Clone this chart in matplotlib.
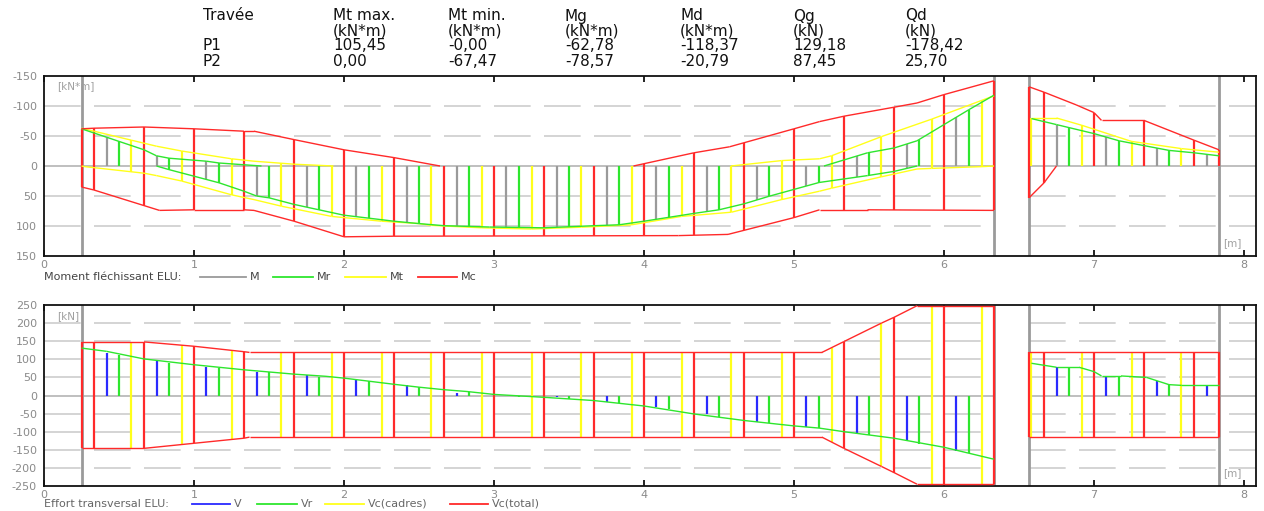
import numpy as np
import matplotlib
matplotlib.use("Agg")
import matplotlib.pyplot as plt
from matplotlib.lines import Line2D

plt.rcParams['font.family'] = ['DejaVu Sans']

# ---------------- table values ----------------
table_headers = ["Travée", "Mt max.", "Mt min.", "Mg", "Md", "Qg", "Qd"]
table_units = ["", "(kN*m)", "(kN*m)", "(kN*m)", "(kN*m)", "(kN)", "(kN)"]
row_P1 = ["P1", "105,45", "-0,00", "-62,78", "-118,37", "129,18", "-178,42"]
row_P2 = ["P2", "0,00", "-67,47", "-78,57", "-20,79", "87,45", "25,70"]

# ---------------- geometry (m) ----------------
support_x = [0.25, 6.333, 6.567, 7.833]
x_ticks = [0, 1, 2, 3, 4, 5, 6, 7, 8]
m_ticks = [-150, -100, -50, 0, 50, 100, 150]
v_ticks = [250, 200, 150, 100, 50, 0, -50, -100, -150, -200, -250]

red_x_P1 = [0.25, 0.333, 0.667, 1.0, 1.333, 1.667, 2.0, 2.333, 2.667, 3.0, 3.333,
            3.667, 4.0, 4.333, 4.667, 5.0, 5.333, 5.667, 6.0, 6.333]
gray_x_P1 = [0.417, 0.75, 1.083, 1.417, 1.75, 2.083, 2.417, 2.75, 3.083, 3.417,
             3.75, 4.083, 4.417, 4.75, 5.083, 5.417, 5.75, 6.083]
green_x_P1 = [0.5, 0.833, 1.167, 1.5, 1.833, 2.167, 2.5, 2.833, 3.167, 3.5,
              3.833, 4.167, 4.5, 4.833, 5.167, 5.5, 5.833, 6.167]
yellow_x_P1 = [0.583, 0.917, 1.25, 1.583, 1.917, 2.25, 2.583, 2.917, 3.25, 3.583,
               3.917, 4.25, 4.583, 4.917, 5.25, 5.583, 5.917, 6.25]
red_x_P2 = [6.567, 6.667, 7.0, 7.333, 7.667, 7.833]
gray_x_P2 = [6.75, 7.083, 7.417, 7.75]
green_x_P2 = [6.833, 7.167, 7.5]
yellow_x_P2 = [6.583, 6.917, 7.25, 7.583]

# ---------------- moment envelopes (kN*m) ----------------
Mc_up_x_P1 = [0.25, 0.333, 0.667, 1.0, 1.333, 1.4, 1.667, 2.0, 2.333, 2.64, 3.93, 4.333,
              4.57, 5.0, 5.17, 5.333, 5.667, 5.82, 6.0, 6.333]
Mc_up_P1 = [-62, -63, -65, -62, -58, -58, -44, -27, -14, 0, 0, -22,
            -32, -62, -74, -83, -98, -105, -119, -142]
Mc_lo_x_P1 = [0.25, 0.333, 0.667, 0.77, 1.0, 1.333, 1.4, 1.667, 2.0, 2.333, 4.23, 4.56,
              5.0, 5.17, 5.49, 6.333]
Mc_lo_P1 = [35, 40, 66, 74, 73, 73, 74, 92, 118, 117, 116, 114, 86, 73, 73, 74]

Mr_up_x_P1 = [0.25, 0.417, 0.5, 0.667, 0.75, 0.833, 1.083, 1.167, 1.45, 5.2, 5.49,
              5.667, 5.82, 6.0, 6.167, 6.333]
Mr_up_P1 = [-62, -48, -41, -27, -17, -13, -8, -5, 0, 0, -22, -30, -42, -69, -94, -118]
Mr_lo_x_P1 = [0.25, 0.75, 0.833, 1.0, 1.167, 1.333, 1.417, 1.5, 1.667, 1.833, 2.0, 2.167,
              2.333, 2.5, 2.667, 2.97, 3.333, 3.667, 3.833, 4.0, 4.333, 4.5, 4.667,
              4.833, 5.0, 5.167, 5.49, 5.667, 5.82, 6.333]
Mr_lo_P1 = [0, 0, 6, 17, 28, 42, 50, 53, 64, 73, 82, 87, 92, 96, 99.5, 101.7, 103, 99.5,
            98, 92, 79, 73, 63, 50.5, 39, 27.5, 16, 9, 0, 0]

Mt_up_x_P1 = [0.25, 0.583, 0.75, 0.917, 1.25, 1.4, 1.667, 1.93, 4.58, 4.917, 5.0, 5.17,
              5.25, 5.583, 5.917, 6.333]
Mt_up_P1 = [-63, -43, -33, -25, -12, -8, -3, 0, 0, -9, -10, -12, -17, -49, -78, -117]
Mt_lo_x_P1 = [0.25, 0.27, 0.667, 0.75, 0.917, 1.25, 1.4, 1.583, 1.917, 2.25, 2.5, 2.583,
              2.917, 3.25, 3.583, 3.917, 4.25, 4.583, 4.917, 5.17, 5.25, 5.583, 5.82,
              5.917, 6.26, 6.333]
Mt_lo_P1 = [0, 1, 12, 16, 25, 48, 56, 67, 84, 92, 96, 99, 103, 105, 102, 98, 84, 77, 56,
            42, 37, 18, 5, 4, 1, 0]

Mc_up_x_P2 = [6.567, 6.667, 6.88, 7.0, 7.05, 7.333, 7.667, 7.833]
Mc_up_P2 = [-132, -123, -102, -89, -76, -76, -43, -27]
Mc_lo_x_P2 = [6.567, 6.667, 6.75, 7.833]
Mc_lo_P2 = [53, 28, 0, 0]
Mr_up_x_P2 = [6.583, 6.75, 7.0, 7.167, 7.333, 7.5, 7.667, 7.833]
Mr_up_P2 = [-79, -69, -54, -42, -34, -26, -22, -17]
Mt_up_x_P2 = [6.583, 6.75, 6.917, 7.25, 7.583, 7.833]
Mt_up_P2 = [-80, -80, -68, -41, -29, -23]

# ---------------- shear (kN) ----------------
Vc_x_P1 = [0.25, 0.667, 1.0, 1.333, 1.37, 5.186, 5.333, 5.583, 5.667, 5.82, 6.333]
Vc_up_P1 = [148, 148, 136, 121, 119, 119, 149, 200, 216, 248, 248]
Vc_lo_P1 = [-146, -146, -132, -118, -115, -115, -146, -196, -213, -245, -245]
Vc_x_P2 = [6.567, 7.833]
Vc_up_P2 = [119, 119]
Vc_lo_P2 = [-115, -115]

Vr_x_P1 = [0.25, 0.417, 0.667, 1.0, 1.333, 1.667, 1.88, 2.0, 2.333, 2.5, 2.667, 2.82,
           3.0, 3.333, 3.667, 4.0, 4.333, 4.667, 5.0, 5.167, 5.333, 5.667, 6.0, 6.333]
Vr_P1 = [131, 122, 101, 85, 71, 59, 53, 48, 31, 23, 16, 11, 3, -5, -14, -29, -51, -69,
         -84, -90, -100, -118, -143, -176]
Vr_x_P2 = [6.583, 6.75, 6.9, 7.0, 7.05, 7.18, 7.35, 7.5, 7.583, 7.833]
Vr_P2 = [89, 78, 78, 66, 54, 54, 50, 30, 28, 28]

V_bars_P1 = [117, 94, 80, 66, 57, 45, 28, 8, 0, -5, -17, -32, -52, -72, -86, -104, -123, -152]
Vr_bars_P1 = [112, 91, 77, 65, 51, 41, 23, 10, -3, -10, -21, -38, -60, -77, -90, -109, -134, -160]
V_bars_P2 = [78, 51, 39, 27]
Vr_bars_P2 = [78, 50, 30]

# ---------------- styles ----------------
C_RED = '#ff2a2a'
C_GREEN = '#2ee62e'
C_YEL = '#ffff1a'
C_GRAY = '#9a9a9a'
C_BLUE = '#2a2aff'
C_GRID = '#cdcdcd'
C_TXT = '#8a8a8a'
W, H = 1264, 511
XMAX = 8.08

fig = plt.figure(figsize=(W / 100, H / 100), dpi=100)


def fx(px):
    return px / W


def fy(py):
    return 1 - py / H


def env(ax, xs, ys, color, lw=1.0, z=4):
    xs = np.asarray(xs, float)
    ys = np.asarray(ys, float)
    for i in range(len(xs) - 1):
        if ys[i] == 0 and ys[i + 1] == 0:
            continue
        ax.plot(xs[i:i + 2], ys[i:i + 2], color=color, lw=lw, zorder=z,
                solid_capstyle='butt')


def base_axes(rect, ylim, yticks, gridvals, unit, unit_y, m_y):
    ax = fig.add_axes(rect)
    ax.set_xlim(0, XMAX)
    ax.set_ylim(*ylim)
    for s in ax.spines.values():
        s.set_color('#111111')
        s.set_linewidth(1.3)
    ax.set_xticks(x_ticks)
    ax.set_xticklabels([str(t) for t in x_ticks])
    ax.set_yticks(yticks)
    ax.set_yticklabels([str(t) for t in yticks])
    ax.tick_params(axis='x', direction='in', top=True, length=4, width=1.3,
                   color='#111111', labelsize=8, labelcolor=C_TXT, pad=3)
    ax.tick_params(axis='y', length=0, labelsize=8, labelcolor=C_TXT, pad=5)
    segs = [(0, 6.333), (6.567, XMAX)]
    for g in gridvals:
        for a, b in segs:
            ax.plot([a, b], [g, g], color=C_GRID, lw=1.2, dashes=(22, 8), zorder=0.5)
    for a, b in segs:
        ax.plot([a, b], [0, 0], color='#b4b4b4', lw=1.2, zorder=0.6)
    for sx in support_x:
        ax.axvline(sx, color=C_GRAY, lw=2.0, zorder=1)
    ax.text(0.09, unit_y, unit, color='#a0a0a0', fontsize=7.5, va='center', ha='left')
    ax.text(7.86, m_y, '[m]', color='#a0a0a0', fontsize=7.5, va='center', ha='left')
    return ax


# ---------------- table ----------------
col_px = [203, 333, 448, 565, 680, 793, 905]
rows = [table_headers, table_units, row_P1, row_P2]
row_py = [16, 31, 46, 61]
for r, py in zip(rows, row_py):
    for c, px in zip(r, col_px):
        fig.text(fx(px), fy(py), c, fontsize=11, color='#111111', va='center', ha='left')

# ---------------- top: moments ----------------
axm = base_axes([fx(44), fy(256), fx(1212), 180 / H], (150, -150), m_ticks,
                [-100, -50, 50, 100], '[kN*m]', -134, 128)


def hatch_m(xs, ux, uy, lx, ly, color, lw=1.6, z=2):
    xs = np.asarray(xs)
    up = np.minimum(np.interp(xs, ux, uy), 0)
    lo = np.maximum(np.interp(xs, lx, ly), 0)
    axm.vlines(xs, up, lo, colors=color, lw=lw, zorder=z)


zeroP2 = ([6.567, 7.833], [0, 0])
hatch_m(gray_x_P1, Mr_up_x_P1, Mr_up_P1, Mr_lo_x_P1, Mr_lo_P1, C_GRAY)
hatch_m(green_x_P1, Mr_up_x_P1, Mr_up_P1, Mr_lo_x_P1, Mr_lo_P1, C_GREEN)
hatch_m(yellow_x_P1, Mt_up_x_P1, Mt_up_P1, Mt_lo_x_P1, Mt_lo_P1, C_YEL)
hatch_m(red_x_P1, Mc_up_x_P1, Mc_up_P1, Mc_lo_x_P1, Mc_lo_P1, C_RED, z=3)
hatch_m(gray_x_P2, Mr_up_x_P2, Mr_up_P2, *zeroP2, C_GRAY)
hatch_m(green_x_P2, Mr_up_x_P2, Mr_up_P2, *zeroP2, C_GREEN)
hatch_m(yellow_x_P2, Mt_up_x_P2, Mt_up_P2, *zeroP2, C_YEL)
hatch_m(red_x_P2, Mc_up_x_P2, Mc_up_P2, Mc_lo_x_P2, Mc_lo_P2, C_RED, z=3)
env(axm, Mt_up_x_P1, Mt_up_P1, C_YEL)
env(axm, Mt_lo_x_P1, Mt_lo_P1, C_YEL)
env(axm, Mr_up_x_P1, Mr_up_P1, C_GREEN)
env(axm, Mr_lo_x_P1, Mr_lo_P1, C_GREEN)
env(axm, Mc_up_x_P1, Mc_up_P1, C_RED)
env(axm, Mc_lo_x_P1, Mc_lo_P1, C_RED)
env(axm, Mt_up_x_P2, Mt_up_P2, C_YEL)
env(axm, Mr_up_x_P2, Mr_up_P2, C_GREEN)
env(axm, Mc_up_x_P2, Mc_up_P2, C_RED)
env(axm, Mc_lo_x_P2, Mc_lo_P2, C_RED)

# ---------------- bottom: shear ----------------
axv = base_axes([fx(44), fy(486), fx(1212), 181 / H], (-250, 250), v_ticks,
                [200, 150, 100, 50, -50, -100, -150, -200], '[kN]', 220, -214)


def hatch_v(xs, cx, cu, cl, color, lw=1.6, z=2):
    xs = np.asarray(xs)
    axv.vlines(xs, np.interp(xs, cx, cl), np.interp(xs, cx, cu), colors=color, lw=lw, zorder=z)


axv.vlines(gray_x_P1, 0, V_bars_P1, colors=C_BLUE, lw=1.6, zorder=2)
axv.vlines(green_x_P1, 0, Vr_bars_P1, colors=C_GREEN, lw=1.6, zorder=2)
axv.vlines(gray_x_P2, 0, V_bars_P2, colors=C_BLUE, lw=1.6, zorder=2)
axv.vlines(green_x_P2, 0, Vr_bars_P2, colors=C_GREEN, lw=1.6, zorder=2)
hatch_v(yellow_x_P1, Vc_x_P1, Vc_up_P1, Vc_lo_P1, C_YEL)
hatch_v(yellow_x_P2, Vc_x_P2, Vc_up_P2, Vc_lo_P2, C_YEL)
hatch_v(red_x_P1, Vc_x_P1, Vc_up_P1, Vc_lo_P1, C_RED, z=3)
hatch_v(red_x_P2, Vc_x_P2, Vc_up_P2, Vc_lo_P2, C_RED, z=3)
env(axv, Vr_x_P1, Vr_P1, C_GREEN)
env(axv, Vr_x_P2, Vr_P2, C_GREEN)
env(axv, Vc_x_P1, Vc_up_P1, C_RED)
env(axv, Vc_x_P1, Vc_lo_P1, C_RED)
env(axv, Vc_x_P2, Vc_up_P2, C_RED)
env(axv, Vc_x_P2, Vc_lo_P2, C_RED)


# ---------------- legends ----------------
def legend_row(py, title, items, tcol):
    fig.text(fx(44), fy(py), title, fontsize=8, color=tcol, va='center', ha='left')
    for (x0, x1, col, lab) in items:
        fig.add_artist(Line2D([fx(x0), fx(x1)], [fy(py), fy(py)], color=col, lw=1.3,
                              transform=fig.transFigure))
        fig.text(fx(x1 + 4), fy(py), lab, fontsize=8, color=tcol, va='center', ha='left')


legend_row(277, 'Moment fléchissant ELU:',
           [(200, 246, C_GRAY, 'M'), (273, 313, C_GREEN, 'Mr'),
            (345, 386, C_YEL, 'Mt'), (418, 457, C_RED, 'Mc')], '#444444')
legend_row(504, 'Effort transversal ELU:',
           [(192, 230, C_BLUE, 'V'), (257, 297, C_GREEN, 'Vr'),
            (325, 364, C_YEL, 'Vc(cadres)'), (450, 488, C_RED, 'Vc(total)')], '#666666')

fig.savefig('out.png', dpi=100)
